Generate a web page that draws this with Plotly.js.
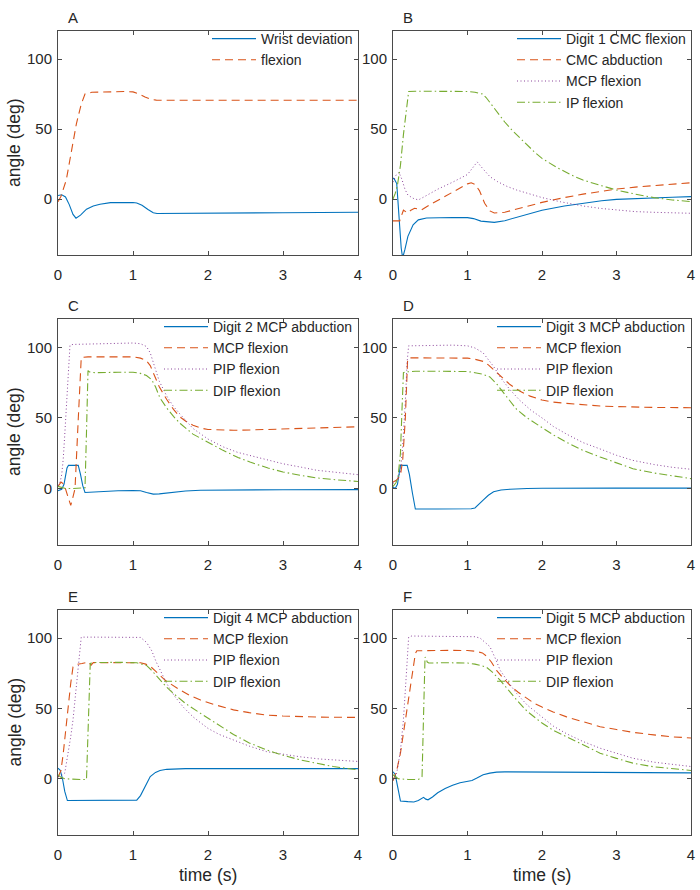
<!DOCTYPE html>
<html>
<head>
<meta charset="utf-8">
<script src="https://cdn.plot.ly/plotly-3.0.1.min.js"></script>
<style>
  html, body { margin: 0; padding: 0; background: #ffffff; }
  #chart { width: 700px; height: 890px; }
</style>
</head>
<body>
<div id="chart"></div>
<script>
// ---- Panel A: wrist ----
const tA_dev = [0, 0.05, 0.1, 0.15, 0.2, 0.24, 0.3, 0.38, 0.47, 0.56, 0.7, 0.85, 1.0, 1.05, 1.12, 1.2, 1.27, 1.32, 1.5, 2, 3, 4];
const A_dev  = [2.5, 3, 1.5, -4, -11, -13.7, -11.5, -7.3, -5, -3.8, -2.6, -2.4, -2.5, -2.8, -4.5, -7.5, -9.8, -10.4, -10.3, -10.1, -9.8, -9.5];
const tA_flex = [0, 0.04, 0.11, 0.18, 0.245, 0.31, 0.36, 0.45, 0.7, 0.9, 1.0, 1.08, 1.16, 1.24, 1.31, 1.45, 4];
const A_flex  = [-2, 2, 13.5, 35, 53.7, 67.8, 75, 76.2, 76.8, 76.8, 76.5, 75, 72.8, 71.2, 70.6, 70.5, 70.5];

// ---- Panel B: digit 1 ----
const tB_cmcflex = [0, 0.02, 0.05, 0.07, 0.093, 0.11, 0.125, 0.14, 0.16, 0.2, 0.27, 0.34, 0.45, 0.6, 0.8, 1.0, 1.08, 1.18, 1.28, 1.36, 1.5, 1.75, 2.0, 2.3, 2.55, 2.8, 3.0, 3.25, 3.5, 3.75, 4.0];
const B_cmcflex  = [15, 14, 11, -5, -24, -35, -40.5, -40, -36, -26.7, -18.4, -14.9, -13.6, -13.2, -13.2, -13.3, -14, -15.8, -16.6, -16.7, -15.5, -11.5, -8, -5, -3, -1.3, -0.3, 0.4, 0.9, 1.3, 1.7];
const tB_cmcabd = [0, 0.09, 0.12, 0.14, 0.17, 0.2, 0.24, 0.29, 0.33, 0.38, 0.5, 0.7, 0.9, 1.0, 1.05, 1.1, 1.16, 1.23, 1.3, 1.36, 1.5, 1.75, 2.0, 2.3, 2.55, 2.8, 3.0, 3.25, 3.5, 3.75, 4.0];
const B_cmcabd  = [-15.6, -15.6, -11, -8, -9, -10, -8, -6.6, -7, -7.8, -4, 2, 8, 10.8, 11.6, 10.5, 6, -3, -8.5, -10, -9.5, -6, -2.4, 1, 3.5, 5.4, 7.1, 8.5, 9.7, 10.7, 11.6];
const tB_mcp = [0, 0.04, 0.08, 0.12, 0.16, 0.2, 0.27, 0.34, 0.45, 0.6, 0.8, 1.0, 1.08, 1.13, 1.2, 1.3, 1.4, 1.53, 1.66, 1.8, 2.0, 2.25, 2.55, 2.8, 3.0, 3.25, 3.5, 3.75, 4.0];
const B_mcp  = [12, 17, 19, 14, 7, 2.8, 0.5, -0.7, 2.5, 7, 12, 17.5, 23, 26.5, 22, 16, 12.5, 9, 6.4, 4, 1, -2, -5, -6.8, -8, -9, -9.5, -9.9, -10.2];
const tB_ip = [0, 0.03, 0.06, 0.1, 0.14, 0.18, 0.21, 0.3, 0.6, 0.9, 1.0, 1.1, 1.2, 1.25, 1.3, 1.4, 1.5, 1.6, 1.75, 1.9, 2.0, 2.2, 2.4, 2.55, 2.8, 3.0, 3.25, 3.5, 3.75, 4.0];
const B_ip  = [0, 4, 10, 24, 46, 66, 76.8, 77, 77, 77, 76.8, 76.2, 75, 72.5, 69, 62, 55, 49, 41, 33.5, 29, 22.5, 17, 13.5, 9.5, 6.4, 3.5, 1, -0.7, -1.9];

// ---- Panel C: digit 2 ----
const tC_abd = [0, 0.05, 0.08, 0.1, 0.12, 0.14, 0.2, 0.27, 0.3, 0.33, 0.36, 0.45, 0.6, 0.8, 1.0, 1.1, 1.18, 1.27, 1.35, 1.5, 1.7, 1.9, 2.2, 3, 4];
const C_abd  = [-1.5, -0.5, 3, 9, 14.5, 16.4, 16.4, 16.4, 10, 2, -2.8, -2.5, -1.9, -1.6, -1.5, -1.6, -2.8, -4, -3.8, -2.8, -1.8, -1.2, -1, -0.9, -0.8];
const tC_mcp = [0, 0.04, 0.08, 0.12, 0.17, 0.2, 0.227, 0.27, 0.29, 0.31, 0.4, 0.7, 1.0, 1.1, 1.18, 1.23, 1.27, 1.35, 1.45, 1.54, 1.63, 1.72, 1.8, 1.9, 2.0, 2.2, 2.34, 2.6, 3.0, 3.5, 4.0];
const C_mcp  = [1.5, 4.5, 3, -4, -12, -6, 0, 49, 75, 92.7, 93.2, 93.3, 93.2, 92.3, 90.5, 87, 82, 72, 63, 56, 50.5, 47, 44.8, 42.8, 41.8, 41.2, 41.2, 41.5, 42.2, 43, 43.7];
const tC_pip = [0, 0.03, 0.05, 0.07, 0.09, 0.115, 0.14, 0.16, 0.2, 0.5, 0.8, 1.0, 1.1, 1.18, 1.23, 1.27, 1.35, 1.45, 1.54, 1.63, 1.8, 2.0, 2.2, 2.4, 2.56, 2.8, 3.0, 3.25, 3.45, 3.7, 4.0];
const C_pip  = [2, 5, 10, 21, 38, 61, 88, 101.5, 102, 102.5, 103, 103, 102.5, 100.5, 96, 89, 76, 65.4, 58, 52.5, 42.5, 35, 29.5, 25.5, 23.4, 20, 17.5, 15, 12.9, 11.5, 9.8];
const tC_dip = [0, 0.05, 0.1, 0.2, 0.3, 0.36, 0.38, 0.4, 0.42, 0.5, 0.8, 1.0, 1.1, 1.18, 1.25, 1.3, 1.36, 1.45, 1.54, 1.63, 1.8, 2.0, 2.2, 2.4, 2.56, 2.8, 3.0, 3.25, 3.45, 3.7, 4.0];
const C_dip  = [1.5, 0.5, 0, 0, 0, 0.5, 40, 83.5, 82.5, 82, 82.3, 82.3, 81.5, 80, 77, 72, 64, 57, 51, 46, 38.5, 32.7, 27, 22, 18.7, 14.5, 11.7, 9.2, 7.5, 6.2, 5];

// ---- Panel D: digit 3 ----
const tD_abd = [0, 0.03, 0.06, 0.1, 0.19, 0.22, 0.26, 0.3, 0.6, 0.9, 1.05, 1.1, 1.15, 1.21, 1.28, 1.35, 1.45, 1.57, 1.8, 2.0, 3.0, 4.0];
const D_abd  = [1, 0, 3, 16.4, 16.4, 10, -3, -14.5, -14.5, -14.5, -14.3, -13.8, -11.5, -8.2, -4.8, -2.3, -1.1, -0.5, 0, 0.2, 0.3, 0.3];
const tD_mcp = [0, 0.05, 0.1, 0.13, 0.165, 0.195, 0.21, 0.4, 0.7, 1.0, 1.1, 1.21, 1.28, 1.35, 1.45, 1.57, 1.7, 1.84, 2.0, 2.15, 2.33, 2.55, 2.78, 3.0, 3.22, 3.5, 4.0];
const D_mcp  = [4.5, 6, 9.4, 20, 49, 90, 92.5, 92.5, 92.5, 92.3, 91.5, 90, 87.5, 84, 79, 73.6, 69, 65.4, 62.6, 61.2, 60.3, 59.2, 58.4, 58, 57.7, 57.4, 57.2];
const tD_pip = [0, 0.05, 0.1, 0.13, 0.165, 0.19, 0.21, 0.5, 0.8, 1.0, 1.1, 1.21, 1.28, 1.35, 1.45, 1.57, 1.7, 1.85, 2.0, 2.15, 2.33, 2.55, 2.78, 3.0, 3.22, 3.5, 3.75, 4.0];
const D_pip  = [3.5, 6, 12, 30, 61, 90, 101, 101.5, 101.5, 101, 99.5, 96, 91.5, 86.4, 78, 70, 62.5, 55.5, 50, 44, 38.5, 32.5, 28, 23.5, 19.9, 17, 15, 13.6];
const tD_dip = [0, 0.04, 0.07, 0.1, 0.12, 0.14, 0.16, 0.3, 0.6, 1.0, 1.1, 1.2, 1.3, 1.4, 1.48, 1.57, 1.66, 1.8, 2.0, 2.15, 2.33, 2.55, 2.78, 3.0, 3.22, 3.5, 3.75, 4.0];
const D_dip  = [1.5, 4, 9.4, 25, 55, 82, 82.5, 83, 83, 82.8, 82, 81, 79, 73.5, 68, 62, 56, 50, 43.4, 38, 32.7, 27, 22.3, 18, 14, 11, 8.8, 7];

// ---- Panel E: digit 4 ----
const tE_abd = [0, 0.03, 0.06, 0.09, 0.125, 0.3, 0.6, 0.9, 1.05, 1.1, 1.14, 1.18, 1.23, 1.3, 1.36, 1.45, 1.54, 1.7, 2, 3, 4];
const E_abd  = [7.5, 6, 0, -9, -15.5, -15.4, -15.4, -15.4, -15.2, -12, -7.8, -3, 1.6, 4.5, 5.9, 6.7, 7, 7.2, 7.2, 7.2, 7.2];
const tE_mcp = [0, 0.04, 0.07, 0.1, 0.14, 0.17, 0.2, 0.25, 0.32, 0.41, 0.44, 0.47, 0.55, 0.8, 1.0, 1.1, 1.17, 1.23, 1.29, 1.36, 1.43, 1.5, 1.63, 1.75, 1.9, 2.1, 2.34, 2.55, 2.78, 3.0, 3.23, 3.5, 4.0];
const E_mcp  = [1, 6, 18, 34, 53.6, 68, 79.5, 81.3, 81.9, 83, 80.7, 82.6, 82.6, 82.6, 82.5, 82.5, 81.5, 80, 77, 73.5, 70, 67.5, 63, 59.5, 56, 52.5, 49, 47, 45.3, 44.6, 44, 43.8, 43.6];
const tE_pip = [0, 0.05, 0.09, 0.13, 0.17, 0.2, 0.24, 0.28, 0.31, 0.5, 0.8, 1.1, 1.18, 1.25, 1.31, 1.38, 1.45, 1.55, 1.67, 1.8, 2.0, 2.15, 2.34, 2.55, 2.78, 3.0, 3.23, 3.5, 3.75, 4.0];
const E_pip  = [1.6, 2.5, 4, 16, 30, 41.8, 65, 88, 100.7, 100.7, 100.7, 100.5, 97, 91, 83, 75, 67.7, 59, 51, 44, 35.8, 31.5, 27.6, 23.2, 19.3, 17.5, 15.6, 14, 13, 12.3];
const tE_dip = [0, 0.04, 0.09, 0.2, 0.3, 0.38, 0.4, 0.43, 0.47, 0.6, 0.8, 1.05, 1.12, 1.18, 1.25, 1.36, 1.45, 1.54, 1.7, 1.9, 2.1, 2.34, 2.55, 2.78, 3.0, 3.23, 3.45, 3.67, 3.85, 4.0];
const E_dip  = [2.8, 1, 0, -0.5, -0.5, -0.5, 40, 82, 82.6, 82.8, 82.8, 82.5, 81.5, 80.6, 77, 70, 65, 60.6, 53.5, 46.5, 39.5, 31.5, 25.5, 20.5, 16.7, 13.4, 11, 8.7, 7.4, 6.4];

// ---- Panel F: digit 5 ----
const tF_abd = [0, 0.03, 0.06, 0.1, 0.2, 0.28, 0.34, 0.39, 0.41, 0.44, 0.47, 0.53, 0.6, 0.7, 0.8, 0.9, 0.97, 1.06, 1.12, 1.21, 1.3, 1.39, 1.5, 2, 3, 4];
const F_abd  = [5, 3, -5, -15.8, -16.3, -16.5, -15.5, -14.2, -13.2, -14.5, -15, -13, -10, -7, -4.6, -2.8, -1.9, -1.2, 0.3, 2.8, 4, 4.7, 4.9, 4.7, 4.4, 4.2];
const tF_mcp = [0, 0.05, 0.1, 0.165, 0.23, 0.3, 0.32, 0.5, 0.8, 1.0, 1.1, 1.2, 1.26, 1.32, 1.39, 1.48, 1.57, 1.68, 1.8, 1.9, 2.0, 2.15, 2.33, 2.55, 2.78, 3.0, 3.22, 3.5, 3.75, 4.0];
const F_mcp  = [-1.5, 6, 18.2, 41.8, 65.3, 89, 91, 91.2, 91.3, 91.2, 90.7, 89.5, 87, 83, 77, 71.5, 66.5, 61.5, 57, 53.5, 51, 47.5, 44, 40.5, 37, 35, 33, 31.2, 29.8, 29];
const tF_pip = [0, 0.05, 0.1, 0.14, 0.18, 0.21, 0.25, 0.6, 1.0, 1.1, 1.17, 1.24, 1.3, 1.37, 1.44, 1.55, 1.66, 1.8, 2.0, 2.15, 2.33, 2.55, 2.78, 3.0, 3.22, 3.5, 3.75, 4.0];
const F_pip  = [-1, 4, 20, 41.8, 75, 100.7, 101.5, 101.5, 101.3, 101, 100, 97, 94, 86, 77, 68.5, 60.6, 52.5, 44, 37.5, 32, 26.5, 21.7, 18, 14.6, 11.8, 10, 8.7];
const tF_dip = [0, 0.04, 0.07, 0.2, 0.34, 0.37, 0.39, 0.41, 0.43, 0.46, 0.48, 0.7, 1.0, 1.1, 1.18, 1.25, 1.33, 1.44, 1.55, 1.66, 1.8, 2.0, 2.15, 2.33, 2.55, 2.78, 3.0, 3.22, 3.5, 3.75, 4.0];
const F_dip  = [2.8, 1, 0, -0.5, -0.5, 0.5, 1.6, 45, 86.6, 83, 82.3, 82.5, 82.3, 81.5, 80.5, 79.5, 76, 70, 63, 56, 48, 39.6, 34.5, 30, 24, 18.2, 14.5, 11.1, 8.5, 7, 5.9];

// ---- labels ----
const panelLetters = ['A', 'B', 'C', 'D', 'E', 'F'];
const legendNames = [
  ['Wrist deviation', 'flexion'],
  ['Digit 1 CMC flexion', 'CMC abduction', 'MCP flexion', 'IP flexion'],
  ['Digit 2 MCP abduction', 'MCP flexion', 'PIP flexion', 'DIP flexion'],
  ['Digit 3 MCP abduction', 'MCP flexion', 'PIP flexion', 'DIP flexion'],
  ['Digit 4 MCP abduction', 'MCP flexion', 'PIP flexion', 'DIP flexion'],
  ['Digit 5 MCP abduction', 'MCP flexion', 'PIP flexion', 'DIP flexion']
];
const xTicks = [0, 1, 2, 3, 4];
const yTicks = [0, 50, 100];
const yLabel = 'angle (deg)';
const xLabel = 'time (s)';

// ---- drawing ----
const W = 700, H = 890;
const FONT = '"Liberation Sans", Arial, Helvetica, sans-serif';
const TXT = '#262626';
const AX = '#4a4a4a';

// line styles in MATLAB's default order (blue, orange, purple, green)
const styles = [
  { color: '#0072BD', dash: 'solid', width: 1.1 },
  { color: '#D95319', dash: '8px,5px', width: 1.1 },
  { color: '#7E2F8E', dash: '1px,2.5px', width: 0.9 },
  { color: '#77AC30', dash: '8px,3px,1.5px,3px', width: 1.1 }
];

// subplot boxes in pixels
const cols = [[58, 358], [393, 691]];
const rows = [[31, 255], [319, 545], [610, 835]];

const panelSeries = [
  [[tA_dev, A_dev], [tA_flex, A_flex]],
  [[tB_cmcflex, B_cmcflex], [tB_cmcabd, B_cmcabd], [tB_mcp, B_mcp], [tB_ip, B_ip]],
  [[tC_abd, C_abd], [tC_mcp, C_mcp], [tC_pip, C_pip], [tC_dip, C_dip]],
  [[tD_abd, D_abd], [tD_mcp, D_mcp], [tD_pip, D_pip], [tD_dip, D_dip]],
  [[tE_abd, E_abd], [tE_mcp, E_mcp], [tE_pip, E_pip], [tE_dip, E_dip]],
  [[tF_abd, F_abd], [tF_mcp, F_mcp], [tF_pip, F_pip], [tF_dip, F_dip]]
];

const traces = [];
const layout = {
  width: W, height: H,
  margin: { l: 0, r: 0, t: 0, b: 0 },
  paper_bgcolor: '#ffffff',
  plot_bgcolor: '#ffffff',
  font: { family: FONT, color: TXT, size: 15 },
  showlegend: true,
  annotations: []
};

panelSeries.forEach((series, p) => {
  const c = cols[p % 2], r = rows[Math.floor(p / 2)];
  const sfx = p === 0 ? '' : String(p + 1);
  const legId = 'legend' + sfx;

  series.forEach((s, i) => {
    traces.push({
      type: 'scatter', mode: 'lines',
      x: s[0], y: s[1],
      name: legendNames[p][i],
      xaxis: 'x' + sfx, yaxis: 'y' + sfx,
      legend: legId,
      line: { color: styles[i].color, dash: styles[i].dash, width: styles[i].width },
      hoverinfo: 'skip'
    });
  });

  const common = {
    ticks: 'inside', ticklen: 4, tickwidth: 1, tickcolor: AX,
    showline: true, linecolor: AX, linewidth: 1, mirror: 'ticks',
    showgrid: false, zeroline: false, fixedrange: true,
    tickfont: { family: FONT, size: 15, color: TXT }
  };
  layout['xaxis' + sfx] = Object.assign({}, common, {
    domain: [c[0] / W, c[1] / W], anchor: 'y' + sfx,
    range: [0, 4], tickvals: xTicks, ticklabelstandoff: 6
  });
  layout['yaxis' + sfx] = Object.assign({}, common, {
    domain: [1 - r[1] / H, 1 - r[0] / H], anchor: 'x' + sfx,
    range: [-40, 120], tickvals: yTicks, ticklabelstandoff: 2
  });

  layout[legId] = {
    x: c[1] / W, xanchor: 'right',
    y: 1 - (r[0] - 8) / H, yanchor: 'top',
    bgcolor: 'rgba(0,0,0,0)', borderwidth: 0,
    itemwidth: 44,
    font: { family: FONT, size: 14, color: TXT },
    tracegroupgap: 0
  };

  // panel letter
  layout.annotations.push({
    text: panelLetters[p], showarrow: false,
    xref: 'paper', yref: 'paper',
    x: (c[0] + 8) / W, xanchor: 'left',
    y: 1 - (r[0] - 14) / H, yanchor: 'middle',
    font: { family: FONT, size: 15, color: TXT }
  });

  // y label on left column
  if (p % 2 === 0) {
    layout.annotations.push({
      text: yLabel, showarrow: false, textangle: -90,
      xref: 'paper', yref: 'paper',
      x: 14 / W, xanchor: 'center',
      y: 1 - ((r[0] + r[1]) / 2) / H, yanchor: 'middle',
      font: { family: FONT, size: 17.5, color: TXT }
    });
  }
  // x label on bottom row
  if (p >= 4) {
    layout.annotations.push({
      text: xLabel, showarrow: false,
      xref: 'paper', yref: 'paper',
      x: ((c[0] + c[1]) / 2) / W, xanchor: 'center',
      y: 1 - 875 / H, yanchor: 'middle',
      font: { family: FONT, size: 17.5, color: TXT }
    });
  }
});

Plotly.newPlot('chart', traces, layout, { staticPlot: true, displayModeBar: false });
</script>
</body>
</html>
